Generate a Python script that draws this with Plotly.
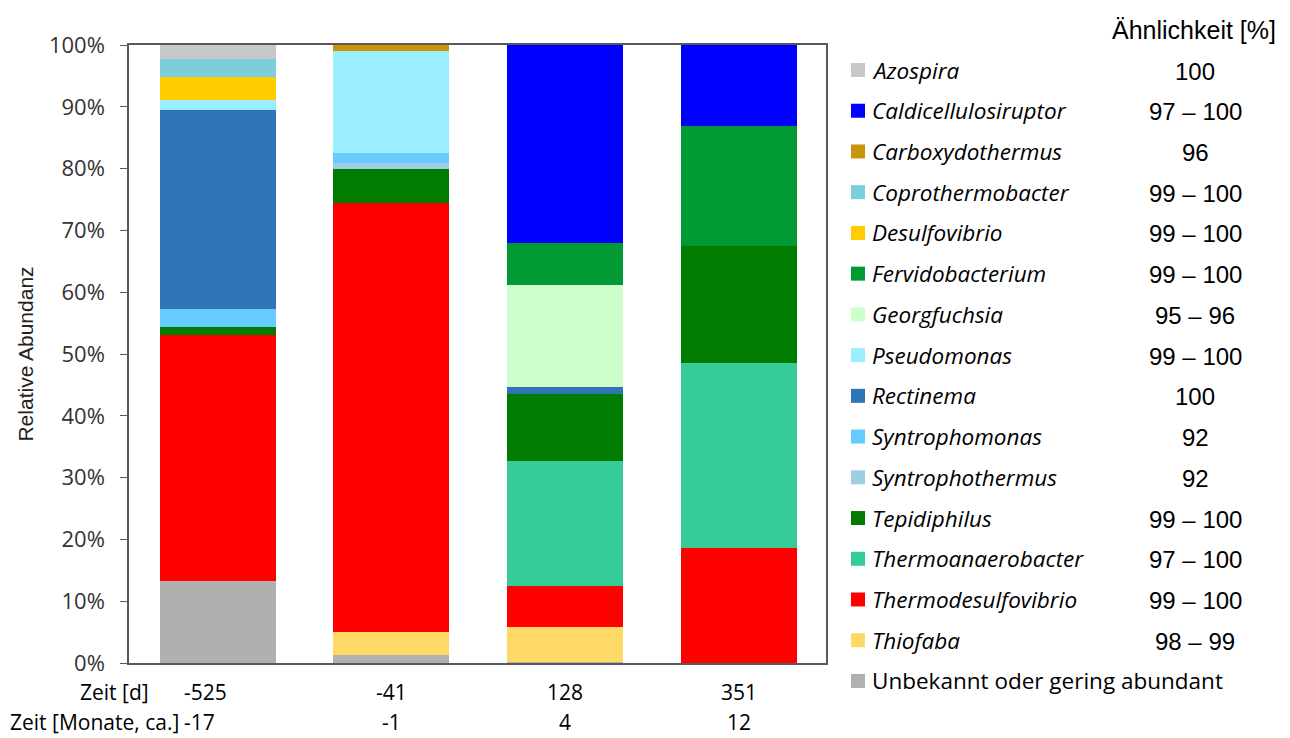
import plotly.graph_objects as go

# Samples (time points)
zeit_tage = ["-525", "-41", "128", "351"]
zeit_monate = ["-17", "-1", "4", "12"]

# Taxa in legend order (top to bottom), with colours and sequence similarity
taxa = [
    "Azospira", "Caldicellulosiruptor", "Carboxydothermus", "Coprothermobacter",
    "Desulfovibrio", "Fervidobacterium", "Georgfuchsia", "Pseudomonas",
    "Rectinema", "Syntrophomonas", "Syntrophothermus", "Tepidiphilus",
    "Thermoanaerobacter", "Thermodesulfovibrio", "Thiofaba",
    "Unbekannt oder gering abundant",
]
aehnlichkeit = [
    "100", "97 – 100", "96", "99 – 100", "99 – 100", "99 – 100", "95 – 96",
    "99 – 100", "100", "92", "92", "99 – 100", "97 – 100", "99 – 100",
    "98 – 99", "",
]
farben = [
    "#C8C8C8", "#0000FF", "#C8960A", "#7BCEDC", "#FFCC00", "#009933",
    "#CCFFCC", "#9BEEFF", "#2E75B6", "#66CCFF", "#9DCFE0", "#007D00",
    "#35CC98", "#FF0000", "#FFD966", "#B0B0B0",
]

# Relative abundance [%] per taxon for the samples -525, -41, 128, 351 d
azospira = [2.3, 0, 0, 0]
caldicellulosiruptor = [0, 0, 32.1, 13.1]
carboxydothermus = [0, 1.0, 0, 0]
coprothermobacter = [2.9, 0, 0, 0]
desulfovibrio = [3.7, 0, 0, 0]
fervidobacterium = [0, 0, 6.7, 19.4]
georgfuchsia = [0, 0, 16.5, 0]
pseudomonas = [1.6, 16.5, 0, 0]
rectinema = [32.2, 0, 1.2, 0]
syntrophomonas = [2.9, 1.6, 0, 0]
syntrophothermus = [0, 1.0, 0, 0]
tepidiphilus = [1.4, 5.4, 10.8, 18.9]
thermoanaerobacter = [0, 0, 20.2, 30.0]
thermodesulfovibrio = [39.8, 69.5, 6.7, 18.6]
thiofaba = [0, 3.75, 5.6, 0]
unbekannt = [13.2, 1.25, 0.2, 0]

werte = [
    azospira, caldicellulosiruptor, carboxydothermus, coprothermobacter,
    desulfovibrio, fervidobacterium, georgfuchsia, pseudomonas, rectinema,
    syntrophomonas, syntrophothermus, tepidiphilus, thermoanaerobacter,
    thermodesulfovibrio, thiofaba, unbekannt,
]

W, H = 1290, 738
L, R, T, B = 129, 826, 45, 663   # plot area in pixels

def px(x):
    return (x - L) / (R - L)

def py(y):
    return (B - y) / (B - T)

CAL = "Open Sans, Lato, sans-serif"
ARIAL = "Liberation Sans, Arial, sans-serif"

fig = go.Figure()
xpos = list(range(len(zeit_tage)))

# Stack from the bottom: reverse of legend order
for name, vals, col in reversed(list(zip(taxa, werte, farben))):
    fig.add_trace(go.Bar(
        x=xpos, y=vals, name=name, marker=dict(color=col, line=dict(width=0)),
        width=0.667, showlegend=False,
    ))

fig.update_layout(
    barmode="stack",
    width=W, height=H,
    margin=dict(l=L, r=W - R, t=T, b=H - B),
    plot_bgcolor="white", paper_bgcolor="white",
    xaxis=dict(range=[-0.51, 3.5], showticklabels=False, ticks="",
               showline=True, linecolor="#595959", linewidth=1.5, mirror=True,
               showgrid=False, zeroline=False),
    yaxis=dict(range=[0, 100], dtick=10, ticksuffix="%", ticks="outside",
               ticklen=7, tickwidth=1.3, tickcolor="#595959",
               ticklabelstandoff=11,
               showline=True, linecolor="#595959", linewidth=1.5, mirror=True,
               showgrid=False, zeroline=False,
               tickfont=dict(family=CAL, size=22, color="#333333"),
               title=dict(text="Relative Abundanz", standoff=10,
                          font=dict(family=ARIAL, size=21, color="#222222"))),
)

ann = []
shapes = []

ROW_D, ROW_M = 692, 722
FS_ROW = 21

# Time rows below the axis
ann.append(dict(text="Zeit [d]", x=px(151), y=py(ROW_D), xref="paper", yref="paper",
                xanchor="right", yanchor="middle", showarrow=False,
                font=dict(family=CAL, size=FS_ROW, color="black")))
ann.append(dict(text="Zeit [Monate, ca.]", x=px(181), y=py(ROW_M), xref="paper",
                yref="paper", xanchor="right", yanchor="middle", showarrow=False,
                font=dict(family=CAL, size=FS_ROW, color="black")))
for i, (d, m) in enumerate(zip(zeit_tage, zeit_monate)):
    if i == 0:
        for txt, row in ((d, ROW_D), (m, ROW_M)):
            ann.append(dict(text=txt, x=px(182), y=py(row), xref="paper",
                            yref="paper", xanchor="left", yanchor="middle",
                            showarrow=False,
                            font=dict(family=CAL, size=FS_ROW, color="black")))
    else:
        for txt, row in ((d, ROW_D), (m, ROW_M)):
            ann.append(dict(text=txt, x=i, y=py(row), xref="x", yref="paper",
                            xanchor="center", yanchor="middle", showarrow=False,
                            font=dict(family=CAL, size=FS_ROW, color="black")))

# Legend with similarity column
ann.append(dict(text="Ähnlichkeit [%]", x=px(1194), y=py(30), xref="paper",
                yref="paper", xanchor="center", yanchor="middle", showarrow=False,
                font=dict(family=ARIAL, size=25, color="black")))
for k, (name, col, sim) in enumerate(zip(taxa, farben, aehnlichkeit)):
    yc = 70 + k * 40.73
    shapes.append(dict(type="rect", xref="paper", yref="paper",
                       x0=px(851), x1=px(865), y0=py(yc + 7), y1=py(yc - 7),
                       fillcolor=col, line=dict(width=0)))
    label = name if k == len(taxa) - 1 else f"<i>{name}</i>"
    ann.append(dict(text=label, x=px(870), y=py(yc), xref="paper", yref="paper",
                    xanchor="left", yanchor="middle", showarrow=False,
                    font=dict(family=CAL, size=22.5, color="black")))
    if sim:
        ann.append(dict(text=sim, x=px(1195), y=py(yc + 1), xref="paper",
                        yref="paper", xanchor="center", yanchor="middle",
                        showarrow=False,
                        font=dict(family=ARIAL, size=24, color="black")))

fig.update_layout(annotations=ann, shapes=shapes)
fig.write_html("out.html")
